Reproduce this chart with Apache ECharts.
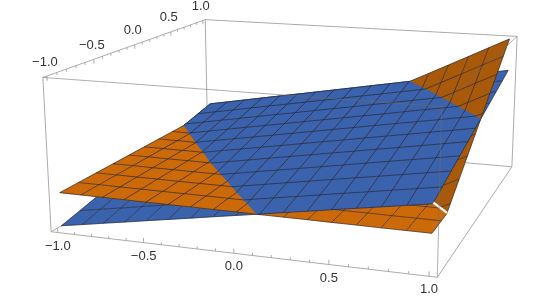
<!DOCTYPE html>
<html><head><meta charset="utf-8"><style>html,body{margin:0;padding:0;background:#fff}#c{width:552px;height:298px}</style>
<script src="https://cdn.jsdelivr.net/npm/echarts@6/dist/echarts.min.js"></script></head><body><div id="c"></div>
<script>
// Heights (z as a fraction of box height). Rows: y=-1..1 (10 cells), columns: x=-1..1 (16 cells).
const blueZ = [
[.030,.054,.079,.103,.128,.152,.176,.201,.225,.249,.274,.298,.323,.347,.371,.396,.420],
[.059,.084,.108,.133,.158,.182,.207,.231,.256,.281,.305,.330,.355,.379,.404,.428,.453],
[.088,.113,.138,.163,.188,.212,.237,.262,.287,.312,.337,.362,.387,.411,.436,.461,.486],
[.117,.142,.167,.192,.218,.243,.268,.293,.318,.343,.368,.393,.419,.444,.469,.494,.519],
[.146,.171,.197,.222,.248,.273,.298,.324,.349,.374,.400,.425,.451,.476,.501,.527,.552],
[.175,.201,.226,.252,.278,.303,.329,.354,.380,.406,.431,.457,.483,.508,.534,.559,.585],
[.204,.230,.256,.282,.308,.333,.359,.385,.411,.437,.463,.489,.515,.540,.566,.592,.618],
[.233,.259,.285,.311,.338,.364,.390,.416,.442,.468,.494,.520,.547,.573,.599,.625,.651],
[.262,.288,.315,.341,.368,.394,.420,.447,.473,.499,.526,.552,.579,.605,.631,.658,.684],
[.291,.318,.344,.371,.398,.424,.451,.477,.504,.531,.557,.584,.611,.637,.664,.690,.717],
[.320,.347,.374,.401,.428,.454,.481,.508,.535,.562,.589,.616,.643,.669,.696,.723,.750]];
// The orange surface is the higher of a nearly level sheet and a rising sheet.
const orangeFlatZ = [
[.250,.250,.249,.249,.248,.248,.248,.247,.247,.246,.246,.246,.245,.245,.244,.244,.244],
[.251,.251,.250,.250,.249,.249,.249,.248,.248,.247,.247,.247,.246,.246,.245,.245,.245],
[.252,.252,.251,.251,.250,.250,.250,.249,.249,.248,.248,.248,.247,.247,.246,.246,.246],
[.253,.253,.252,.252,.251,.251,.251,.250,.250,.249,.249,.249,.248,.248,.247,.247,.247],
[.254,.254,.253,.253,.252,.252,.252,.251,.251,.250,.250,.250,.249,.249,.248,.248,.248],
[.255,.255,.254,.254,.253,.253,.253,.252,.252,.251,.251,.251,.250,.250,.249,.249,.249],
[.256,.256,.255,.255,.254,.254,.254,.253,.253,.252,.252,.252,.251,.251,.250,.250,.250],
[.257,.257,.256,.256,.255,.255,.255,.254,.254,.253,.253,.253,.252,.252,.251,.251,.251],
[.258,.258,.257,.257,.256,.256,.256,.255,.255,.254,.254,.254,.253,.253,.252,.252,.252],
[.259,.259,.258,.258,.257,.257,.257,.256,.256,.255,.255,.255,.254,.254,.253,.253,.253],
[.260,.260,.259,.259,.258,.258,.258,.257,.257,.256,.256,.256,.255,.255,.254,.254,.254]];
const orangeRiseZ = [
[-1.083,-1.009,-.935,-.860,-.786,-.712,-.638,-.563,-.489,-.415,-.341,-.266,-.192,-.118,-.044,.031,.105],
[-.995,-.921,-.847,-.772,-.698,-.624,-.550,-.475,-.401,-.327,-.253,-.178,-.104,-.030,.044,.119,.193],
[-.907,-.833,-.759,-.684,-.610,-.536,-.462,-.387,-.313,-.239,-.165,-.090,-.016,.058,.132,.207,.281],
[-.819,-.745,-.671,-.596,-.522,-.448,-.374,-.299,-.225,-.151,-.077,-.002,.072,.146,.220,.295,.369],
[-.731,-.657,-.583,-.508,-.434,-.360,-.286,-.211,-.137,-.063,.011,.086,.160,.234,.308,.383,.457],
[-.643,-.569,-.495,-.420,-.346,-.272,-.198,-.123,-.049,.025,.099,.174,.248,.322,.396,.471,.545],
[-.555,-.481,-.407,-.332,-.258,-.184,-.110,-.035,.039,.113,.187,.262,.336,.410,.484,.559,.633],
[-.467,-.393,-.319,-.244,-.170,-.096,-.022,.053,.127,.201,.275,.350,.424,.498,.572,.647,.721],
[-.379,-.305,-.231,-.156,-.082,-.008,.066,.141,.215,.289,.363,.438,.512,.586,.660,.735,.809],
[-.291,-.217,-.143,-.068,.006,.080,.154,.229,.303,.377,.451,.526,.600,.674,.748,.823,.897],
[-.203,-.129,-.055,.020,.094,.168,.242,.317,.391,.465,.539,.614,.688,.762,.836,.911,.985]];
const xTickValues = [-1,-.9,-.8,-.7,-.6,-.5,-.4,-.3,-.2,-.1,0,.1,.2,.3,.4,.5,.6,.7,.8,.9,1];
const yTickValues = xTickValues;
const tickLabels = ['\u22121.0','\u22120.5','0.0','0.5','1.0'];
const labelValues = [-1,-.5,0,.5,1];
const creaseGap = [[1,-.67,.246],[.897,-.53,.249]];

// Camera: fitted so that the plot box lands where the reference shows its eight corners.
const B = 1.04;
const boxCorners = [
 [-B,-B,0,51,232],[B,-B,0,437,277],[B,B,0,512,167],[-B,B,0,208,140],
 [-B,-B,1,43,77],[B,-B,1,442,107],[B,B,1,517,36],[-B,B,1,205,20]];
function fitCamera(c){
  const n=11, A=[...Array(n)].map(()=>Array(n+1).fill(0));
  const add=(r,v)=>{for(let a=0;a<n;a++){for(let b=0;b<n;b++)A[a][b]+=r[a]*r[b];A[a][n]+=r[a]*v;}};
  c.forEach(([x,y,z,u,v])=>{
    add([x,y,z,1,0,0,0,0,-u*x,-u*y,-u*z],u);
    add([0,0,0,0,x,y,z,1,-v*x,-v*y,-v*z],v);
  });
  for(let i=0;i<n;i++){
    let p=i;for(let r=i+1;r<n;r++)if(Math.abs(A[r][i])>Math.abs(A[p][i]))p=r;
    [A[i],A[p]]=[A[p],A[i]];
    for(let r=0;r<n;r++){if(r===i)continue;const f=A[r][i]/A[i][i];for(let k=i;k<=n;k++)A[r][k]-=f*A[i][k];}
  }
  return A.map((r,i)=>r[n]/r[i]);
}
const M=fitCamera(boxCorners);
function project(x,y,z){
  const w=M[8]*x+M[9]*y+M[10]*z+1;
  return [(M[0]*x+M[1]*y+M[2]*z+M[3])/w,(M[4]*x+M[5]*y+M[6]*z+M[7])/w];
}

// Style
const BLUE='#3a62ad', ORANGE_LIGHT='#cc6a0a', ORANGE_DARK='#a85a0a';
const MESH='rgba(35,35,45,.7)', BOX='#ababab', BOX_FRONT='rgba(110,110,110,.55)', TEXT='#333';

const NX=16, NY=10, gx=i=>-1+2*i/NX, gy=j=>-1+2*j/NY;
function node(S,others,i,j){return {x:gx(i),y:gy(j),z:S[j][i],g:others.map(O=>S[j][i]-O[j][i])};}
function lerp(a,b,t){return {x:a.x+(b.x-a.x)*t,y:a.y+(b.y-a.y)*t,z:a.z+(b.z-a.z)*t,g:a.g.map((v,k)=>v+(b.g[k]-v)*t)};}
function clip(poly,k,closed){
  const out=[],n=poly.length;
  for(let m=0;m<(closed?n:n-1);m++){
    const a=poly[m],b=poly[(m+1)%n],da=a.g[k],db=b.g[k];
    if(da>=0)out.push(a);
    if(da*db<0)out.push(lerp(a,b,da/(da-db)));
  }
  if(!closed&&n&&poly[n-1].g[k]>=0)out.push(poly[n-1]);
  return out;
}
function sheet(S,others,color){
  const fills=[],lines=[];
  const cut=(p,closed)=>{others.forEach((_,k)=>{if(p.length)p=clip(p,k,closed);});return p;};
  for(let j=NY-1;j>=0;j--)for(let i=0;i<NX;i++){
    const c=cut([node(S,others,i,j),node(S,others,i+1,j),node(S,others,i+1,j+1),node(S,others,i,j+1)],true);
    if(c.length>2)fills.push({pts:c,color});
  }
  for(let j=0;j<=NY;j++)for(let i=0;i<NX;i++){
    const s=cut([node(S,others,i,j),node(S,others,i+1,j)],false);
    if(s.length>1)lines.push(s);
  }
  for(let i=0;i<=NX;i++)for(let j=0;j<NY;j++){
    const s=cut([node(S,others,i,j),node(S,others,i,j+1)],false);
    if(s.length>1)lines.push(s);
  }
  return {fills,lines};
}
const blueAll=sheet(blueZ,[],BLUE);
const flatOrange=sheet(orangeFlatZ,[orangeRiseZ],ORANGE_LIGHT);
const riseOrange=sheet(orangeRiseZ,[orangeFlatZ],ORANGE_DARK);
const blueTop=sheet(blueZ,[orangeFlatZ,orangeRiseZ],BLUE);

function fillSeries(items){
  return {type:'custom',coordinateSystem:'cartesian2d',silent:true,animation:false,clip:false,
    data:items.map((_,i)=>[i]),
    renderItem(p,api){
      const it=items[api.value(0)];
      return {type:'polygon',shape:{points:it.pts.map(q=>api.coord(project(q.x,q.y,q.z)))},
        style:{fill:it.color,stroke:it.color,lineWidth:.4}};
    }};
}
function lineSeries(segs,color,w){
  return {type:'custom',coordinateSystem:'cartesian2d',silent:true,animation:false,clip:false,
    data:segs.map((_,i)=>[i]),
    renderItem(p,api){
      const s=segs[api.value(0)];
      return {type:'polyline',shape:{points:s.map(q=>api.coord(project(q.x,q.y,q.z)))},
        style:{fill:null,stroke:color,lineWidth:w}};
    }};
}
const P3=(x,y,z)=>({x,y,z});
const e=(a,b,c,d,f,g)=>[P3(a,b,c),P3(d,f,g)];
const backEdges=[e(-B,-B,1,-B,B,1),e(-B,B,1,B,B,1),e(-B,B,1,-B,B,0),e(B,B,1,B,B,0),e(-B,-B,0,-B,B,0),e(-B,B,0,B,B,0),
  e(-B,-B,1,-B,-B,0),e(-B,-B,0,B,-B,0),e(B,-B,0,B,B,0)];
const frontEdges=[e(-B,-B,1,B,-B,1),e(B,-B,1,B,B,1),e(B,-B,1,B,-B,0)];
const major=v=>Math.abs(v*2-Math.round(v*2))<1e-6;
const ticks=[
  ...xTickValues.map(v=>e(v,-B,0,v,-B,major(v)?.03:.017)),
  ...yTickValues.map(v=>e(-B,v,1,-B,v,major(v)?.97:.983))];
function labelSeries(){
  const items=[
   ...labelValues.map((v,i)=>({p:[v,-B,0],t:tickLabels[i],dx:0,dy:13.5})),
   ...labelValues.map((v,i)=>({p:[-B,v,1],t:tickLabels[i],dx:-2,dy:-14}))];
  return {type:'custom',coordinateSystem:'cartesian2d',silent:true,animation:false,clip:false,
    data:items.map((_,i)=>[i]),
    renderItem(p,api){
      const it=items[api.value(0)],c=api.coord(project(...it.p));
      return {type:'text',x:c[0]+it.dx,y:c[1]+it.dy,
        style:{text:it.t,fill:TEXT,font:'13px "Liberation Sans", Arial, sans-serif',textAlign:'center',textVerticalAlign:'middle'}};
    }};
}
const crack=[creaseGap.map(q=>P3(...q))];

const chart=echarts.init(document.getElementById('c'),null,{renderer:'canvas'});
chart.setOption({
  animation:false,
  grid:{left:0,right:0,top:0,bottom:0},
  xAxis:{type:'value',min:0,max:552,show:false},
  yAxis:{type:'value',min:0,max:298,inverse:true,show:false},
  series:[
    lineSeries(backEdges,BOX,1),
    lineSeries(ticks,BOX,1),
    fillSeries(blueAll.fills),lineSeries(blueAll.lines,MESH,.9),
    fillSeries(riseOrange.fills),fillSeries(flatOrange.fills),
    lineSeries(riseOrange.lines,MESH,.9),lineSeries(flatOrange.lines,MESH,.9),
    fillSeries(blueTop.fills),lineSeries(blueTop.lines,MESH,.9),
    lineSeries(crack,'#fff',2.2),
    lineSeries(frontEdges,BOX_FRONT,1),
    labelSeries()
  ]
});
</script></body></html>
